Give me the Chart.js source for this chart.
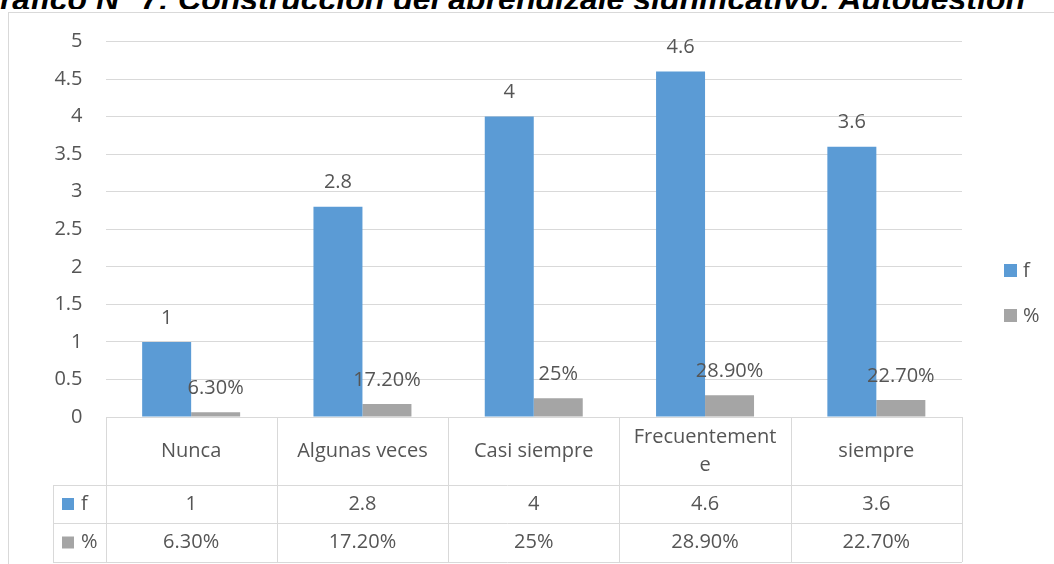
<!DOCTYPE html>
<html lang="es">
<head>
<meta charset="utf-8">
<title>Gráfico N° 7: Construcción del aprendizaje significativo: Autogestión</title>
<script src="https://cdn.jsdelivr.net/npm/chart.js@4.4.1/dist/chart.umd.min.js"></script>
<style>
  html, body { margin: 0; padding: 0; background: #fff; overflow: hidden; }
  .page { position: relative; width: 1054px; height: 564px; }
  /* the title sits above the chart picture and is cut off by it */
  .title-clip { position: absolute; left: 0; top: 0; width: 1054px; height: 9px; overflow: hidden; }
  .title {
    position: absolute; left: -25px; top: -17px; white-space: pre; color: #000;
    font: italic bold 32px "Liberation Sans", Arial, sans-serif; line-height: 32px;
  }
  .frame { position: absolute; left: 8px; top: 12px; width: 1100px; height: 600px; border: 1px solid #d9d9d9; }
  canvas { position: absolute; left: 0; top: 0; }
</style>
</head>
<body>
<div class="page">
  <div class="title-clip"><div class="title">Gráfico N° 7: Construcción del aprendizaje significativo: Autogestión</div></div>
  <div class="frame"></div>
  <canvas id="chart" width="1054" height="564"></canvas>
</div>
<script>
// data
const categories = ['Nunca', 'Algunas veces', 'Casi siempre', 'Frecuentemente', 'siempre'];
const seriesNames = ['f', '%'];
const fValues = [1, 2.8, 4, 4.6, 3.6];
const fLabels = ['1', '2.8', '4', '4.6', '3.6'];
const pctValues = [0.063, 0.172, 0.25, 0.289, 0.227];
const pctLabels = ['6.30%', '17.20%', '25%', '28.90%', '22.70%'];
const yTickLabels = ['0', '0.5', '1', '1.5', '2', '2.5', '3', '3.5', '4', '4.5', '5'];

const TEXT = '#555555';
const LINE = '#d9d9d9';
const FONT = '20px "Open Sans"';

Chart.defaults.font.family = 'Open Sans';

// break a label into lines that fit a cell, splitting long words by letters like Excel does
const wrapText = (ctx, text, maxW) => {
  const lines = [];
  let line = '';
  for (const word of text.split(' ')) {
    const trial = line ? line + ' ' + word : word;
    if (ctx.measureText(trial).width <= maxW) { line = trial; continue; }
    if (line) lines.push(line);
    let part = '';
    for (const ch of word) {
      if (part && ctx.measureText(part + ch).width > maxW) { lines.push(part); part = ch; }
      else part += ch;
    }
    line = part;
  }
  if (line) lines.push(line);
  return lines;
};

// value labels above each bar
const valueLabels = {
  id: 'valueLabels',
  afterDatasetsDraw(chart) {
    const { ctx } = chart;
    ctx.save();
    ctx.font = FONT;
    ctx.fillStyle = TEXT;
    ctx.textAlign = 'center';
    ctx.textBaseline = 'middle';
    chart.data.datasets.forEach((ds, di) => {
      chart.getDatasetMeta(di).data.forEach((bar, i) => {
        ctx.fillText(ds.valueLabels[i], bar.x, bar.y - 24);
      });
    });
    ctx.restore();
  }
};

// data table under the plot plus the legend on the right
const dataTable = {
  id: 'dataTable',
  afterDraw(chart) {
    const { ctx, chartArea, scales: { x } } = chart;
    const datasets = chart.data.datasets;
    const top = chartArea.bottom;
    const headerBottom = top + 68;
    const rowBottoms = [headerBottom + 38, headerBottom + 77];
    const keyLeft = 53;
    const px = (v) => Math.round(v) + 0.5;

    const bounds = [];
    for (let i = 0; i <= categories.length; i++) bounds.push(x.getPixelForValue(i - 0.5));
    const right = bounds[bounds.length - 1];

    ctx.save();
    ctx.strokeStyle = LINE;
    ctx.lineWidth = 1;
    ctx.beginPath();
    [headerBottom, ...rowBottoms].forEach((y) => {
      ctx.moveTo(keyLeft, px(y));
      ctx.lineTo(right, px(y));
    });
    bounds.forEach((bx) => {
      ctx.moveTo(px(bx), top);
      ctx.lineTo(px(bx), rowBottoms[1]);
    });
    ctx.moveTo(px(keyLeft), headerBottom);
    ctx.lineTo(px(keyLeft), rowBottoms[1]);
    ctx.stroke();

    ctx.font = FONT;
    ctx.fillStyle = TEXT;
    ctx.textAlign = 'center';
    ctx.textBaseline = 'middle';

    // category header row
    const headMid = (top + headerBottom) / 2;
    categories.forEach((cat, i) => {
      const lines = wrapText(ctx, cat, bounds[i + 1] - bounds[i] - 18);
      const lh = 28;
      lines.forEach((ln, k) => {
        ctx.fillText(ln, x.getPixelForValue(i), headMid + (k - (lines.length - 1) / 2) * lh);
      });
    });

    // one row per series
    datasets.forEach((ds, di) => {
      const rowTop = di === 0 ? headerBottom : rowBottoms[di - 1];
      const mid = (rowTop + rowBottoms[di]) / 2;
      ctx.fillStyle = ds.backgroundColor;
      ctx.fillRect(62, mid - 6, 12, 12);
      ctx.fillStyle = TEXT;
      ctx.textAlign = 'left';
      ctx.fillText(ds.label, 81, mid);
      ctx.textAlign = 'center';
      ds.valueLabels.forEach((lbl, i) => ctx.fillText(lbl, x.getPixelForValue(i), mid));
    });

    // legend at the right
    datasets.forEach((ds, di) => {
      const cy = 271 + di * 45;
      ctx.fillStyle = ds.backgroundColor;
      ctx.fillRect(chartArea.right + 42, cy - 7, 13, 13);
      ctx.fillStyle = TEXT;
      ctx.textAlign = 'left';
      ctx.fillText(ds.label, chartArea.right + 61, cy);
    });
    ctx.restore();
  }
};

new Chart(document.getElementById('chart'), {
  type: 'bar',
  data: {
    labels: categories,
    datasets: [
      { label: seriesNames[0], data: fValues, valueLabels: fLabels, backgroundColor: '#5b9bd5' },
      { label: seriesNames[1], data: pctValues, valueLabels: pctLabels, backgroundColor: '#a5a5a5' }
    ]
  },
  options: {
    responsive: false,
    animation: false,
    layout: { padding: { top: 41.5, right: 92, bottom: 147, left: 0 } },
    datasets: { bar: { categoryPercentage: 0.572, barPercentage: 1 } },
    plugins: {
      legend: { display: false },
      tooltip: { enabled: false }
    },
    scales: {
      x: { display: false },
      y: {
        min: 0,
        max: 5,
        afterFit: (scale) => { scale.width = 105.5; },
        border: { display: false },
        grid: { color: LINE, drawTicks: false },
        ticks: {
          stepSize: 0.5,
          padding: 23,
          color: TEXT,
          font: { size: 20 },
          callback: (val, i) => yTickLabels[i]
        }
      }
    }
  },
  plugins: [valueLabels, dataTable]
});
</script>
</body>
</html>
